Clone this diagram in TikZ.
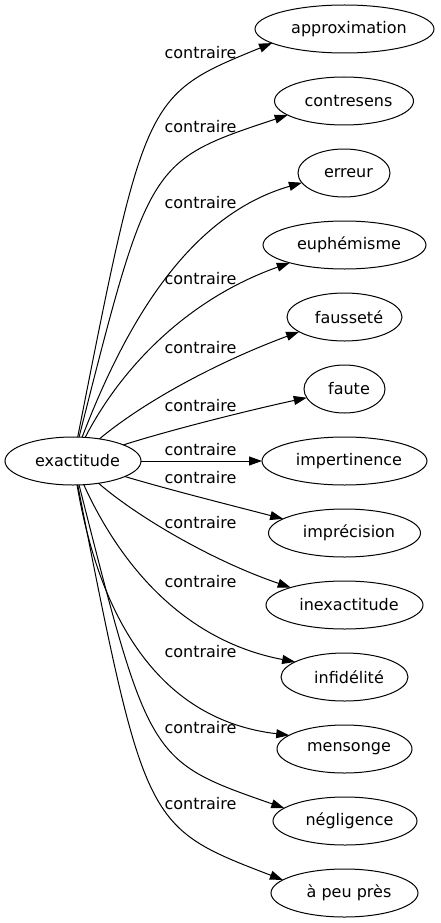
\documentclass[tikz,border=0pt]{standalone}
\usepackage{fontspec}
\setmainfont{DejaVu Sans}
\usetikzlibrary{arrows.meta,shapes.geometric}
\begin{document}
\begin{tikzpicture}[x=1pt,y=-1pt,
  every node/.style={font=\fontsize{16}{19}\selectfont},
  ell/.style={draw, line width=1pt, ellipse, inner sep=0pt, outer sep=0pt, minimum height=48pt, execute at begin node={\hspace*{9pt}}},
  lab/.style={inner sep=0pt},
  edge/.style={line width=1pt, -{Triangle[length=13pt,width=9pt]}}]
\useasboundingbox (0,0) rectangle (440,923);

\node[ell, minimum width=136pt] (ex) at (73,461) {exactitude};
\node[ell, minimum width=179pt] (n1) at (344.5,29) {approximation};
\node[ell, minimum width=139pt] (n2) at (344,101) {contresens};
\node[ell, minimum width=92pt] (n3) at (344,173) {erreur};
\node[ell, minimum width=163pt] (n4) at (344.5,245) {euphémisme};
\node[ell, minimum width=115pt] (n5) at (344.5,317) {fausseté};
\node[ell, minimum width=81pt] (n6) at (344.5,389) {faute};
\node[ell, minimum width=165pt] (n7) at (344.5,461) {impertinence};
\node[ell, minimum width=152pt] (n8) at (344.5,533) {imprécision};
\node[ell, minimum width=157pt] (n9) at (344.5,605) {inexactitude};
\node[ell, minimum width=127pt] (n10) at (344.5,677) {infidélité};
\node[ell, minimum width=135pt] (n11) at (344.5,749) {mensonge};
\node[ell, minimum width=144pt] (n12) at (345,821) {négligence};
\node[ell, minimum width=147pt] (n13) at (344.5,893) {à peu près};

\draw[edge] (ex) .. controls (145,95) and (145,95) .. (n1.191);
\draw[edge] (ex) .. controls (149,161) and (149,161) .. (n2.194);
\draw[edge] (ex) .. controls (127,320) and (190,215) .. (n3.193);
\draw[edge] (ex) .. controls (120,370) and (185,300) .. (n4.198);
\draw[edge] (ex) .. controls (140,405) and (210,365) .. (n5.198);
\draw[edge] (ex) .. controls (170,430) and (250,410) .. (n6.193);
\draw[edge] (ex) -- (n7);
\draw[edge] (ex) .. controls (170,490) and (230,505) .. (n8.167);
\draw[edge] (ex) .. controls (135,515) and (210,560) .. (n9.162);
\draw[edge] (ex) .. controls (118,560) and (180,640) .. (n10.163);
\draw[edge] (ex) .. controls (100,620) and (160,720) .. (n11.166);
\draw[edge] (ex) .. controls (149,761) and (149,761) .. (n12.168);
\draw[edge] (ex) .. controls (145,827) and (145,827) .. (n13.168);

\node[lab] (l1) at (200.5,53) {contraire};
\node[lab] (l2) at (200.5,127) {contraire};
\node[lab] (l3) at (200.5,203) {contraire};
\node[lab] (l4) at (200.5,279) {contraire};
\node[lab] (l5) at (200.5,348) {contraire};
\node[lab] (l6) at (200.5,406) {contraire};
\node[lab] (l7) at (200.5,450) {contraire};
\node[lab] (l8) at (200.5,478) {contraire};
\node[lab] (l9) at (200.5,523) {contraire};
\node[lab] (l10) at (200.5,582) {contraire};
\node[lab] (l11) at (200.5,652) {contraire};
\node[lab] (l12) at (200.5,728) {contraire};
\node[lab] (l13) at (200.5,804) {contraire};
\end{tikzpicture}
\end{document}
